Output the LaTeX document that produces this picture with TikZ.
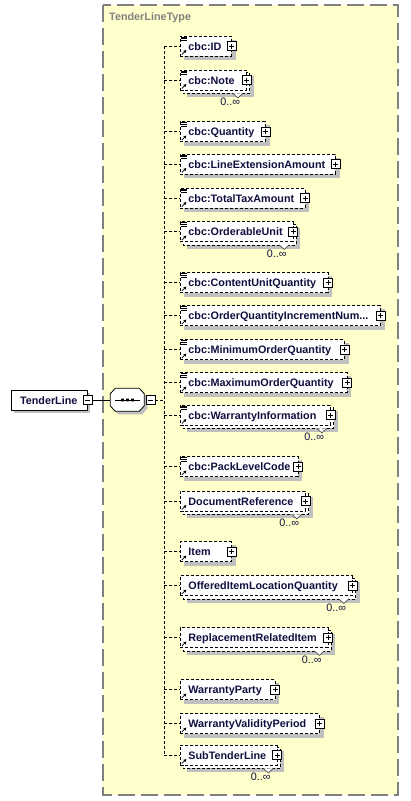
\documentclass[tikz,border=0pt]{standalone}
\usepackage{fontspec}
\setmainfont{Liberation Sans}
\usepackage{xcolor}
\usepackage{tikz}
\usetikzlibrary{positioning,backgrounds,arrows.meta}
\definecolor{typeyellow}{RGB}{255,255,204}
\definecolor{typegray}{RGB}{128,128,128}
\definecolor{shadegray}{RGB}{192,192,192}
\definecolor{navy}{RGB}{16,16,64}
\hyphenpenalty=10000
\tikzset{
  link/.style={dash pattern=on 3pt off 2pt, line width=0.8pt},
  dropshade/.style={append after command={\pgfextra{\begin{pgfonlayer}{background}
    \fill[shadegray] ([shift={(#1,-#1)}]\tikzlastnode.north west) rectangle ([shift={(#1,-#1)}]\tikzlastnode.south east);
    \end{pgfonlayer}}}},
  backcopy/.style={append after command={\pgfextra{\begin{pgfonlayer}{background}
    \draw[fill=white, line width=0.8pt, dash pattern=on 3pt off 2pt]
      ([shift={(3pt,-3pt)}]\tikzlastnode.north west) rectangle ([shift={(3pt,-3pt)}]\tikzlastnode.south east);
    \end{pgfonlayer}}}},
  elem/.style={draw, fill=white, dash pattern=on 3pt off 2pt, line width=0.8pt, anchor=west,
    minimum height=20pt, inner xsep=8pt, inner ysep=0pt, align=left, text=navy,
    text height=8pt, text depth=0pt, font=\fontsize{10.8pt}{13pt}\selectfont\bfseries},
  one/.style={elem, dropshade=4pt},
  many/.style={elem, dropshade=6.8pt, backcopy},
  icon/.style={solid, black, line width=0.8pt, -{Triangle[length=2.8pt,width=2.8pt]}},
  bars/.style={solid, black, line width=0.9pt},
  ref/.style={path picture={
    \draw[icon] ([shift={(1.5pt,1.5pt)}]path picture bounding box.south west) -- ++(4.5pt,4.5pt);}},
  cbc/.style={path picture={
    \draw[icon] ([shift={(1.5pt,1.5pt)}]path picture bounding box.south west) -- ++(4.5pt,4.5pt);
    \draw[bars] ([shift={(1pt,-1pt)}]path picture bounding box.north west) -- ++(5.5pt,0)
                ([shift={(1pt,-2.8pt)}]path picture bounding box.north west) -- ++(5.5pt,0)
                ([shift={(1pt,-4.6pt)}]path picture bounding box.north west) -- ++(5.5pt,0);}},
  pm/.style={draw, solid, fill=white, line width=0.7pt, minimum size=9pt, inner sep=0pt},
  plus/.style={pm, path picture={
    \draw[line width=0.7pt] ([xshift=2pt]path picture bounding box.west) -- ([xshift=-2pt]path picture bounding box.east)
      ([yshift=2pt]path picture bounding box.south) -- ([yshift=-2pt]path picture bounding box.north);}},
  minus/.style={pm, path picture={
    \draw[line width=0.7pt] ([xshift=2pt]path picture bounding box.west) -- ([xshift=-2pt]path picture bounding box.east);}},
  notch/.style={draw=black!70, fill=white, solid, line width=0.7pt},
  mult/.style={text=navy, inner sep=0pt, font=\fontsize{10.8pt}{12pt}\selectfont},
  typebox/.style={draw=typegray, fill=typeyellow, line width=1.2pt, dash pattern=on 17pt off 6pt},
  typelabel/.style={text=typegray, anchor=base west, inner sep=0pt, font=\fontsize{10.8pt}{13pt}\selectfont\bfseries},
  rootbox/.style={draw, fill=white, line width=0.8pt, minimum height=20pt, inner xsep=9pt, inner ysep=0pt,
    text width=58pt, align=left, text=navy, text height=8pt, text depth=0pt,
    font=\fontsize{10.8pt}{13pt}\selectfont\bfseries, dropshade=3pt},
  seqbox/.style={minimum width=34pt, minimum height=23pt, inner sep=0pt},
  octagon/.style={insert path={-- ++(24pt,0) -- ++(5pt,-5.5pt) -- ++(0,-12pt) -- ++(-5pt,-5.5pt)
    -- ++(-24pt,0) -- ++(-5pt,5.5pt) -- ++(0,12pt) -- cycle}}
}

\begin{document}
\begin{tikzpicture}[x=1pt, y=1pt]
    \useasboundingbox (0,0) rectangle (410,-801);
    \begin{scope}[on background layer]
        \draw[typebox] (103,-5) rectangle (398,-795);
    \end{scope}
    \node(type)[typelabel] at (109,-20.5) {TenderLineType};

    \node(root)[rootbox] at (49,-400) {TenderLine};
    \node(rootx)[minus] at (root.east) {};
    \node(seq)[seqbox, right=18pt of rootx] {};
    \fill[shadegray] ([shift={(8pt,-3pt)}]seq.north west) [octagon];
    \draw[fill=white, line width=0.8pt] ([xshift=5pt]seq.north west) [octagon];
    \draw[line width=0.8pt] ([xshift=-12.5pt]seq.center) -- ([xshift=12.5pt]seq.center);
    \fill ([shift={(-6.3pt,-1.3pt)}]seq.center) rectangle ++(2.6pt,2.6pt)
          ([shift={(-1.3pt,-1.3pt)}]seq.center) rectangle ++(2.6pt,2.6pt)
          ([shift={(3.7pt,-1.3pt)}]seq.center) rectangle ++(2.6pt,2.6pt);
    \node(seqx)[minus, right=1pt of seq] {};
    \coordinate(trunk) at (164,-400);

    \node(id)[one, cbc, text width=35pt] at (180,-46) {cbc:ID};
    \node(idx)[plus] at (id.east) {};
    \node(note)[many, cbc, text width=50pt] at (180,-80) {cbc:Note};
    \node(notex)[plus] at (note.east) {};
    \draw[notch] ([shift={(-14pt,-3pt)}]note.south east) -- ++(5pt,-4.5pt) -- ++(5pt,4.5pt);
    \node(notem)[mult] at ([shift={(-16.5pt,-22pt)}]note.east) {0..∞};
    \node(qty)[one, cbc, text width=69pt] at (180,-131.5) {cbc:Quantity};
    \node(qtyx)[plus] at (qty.east) {};
    \node(lineamt)[one, cbc, text width=139pt] at (180,-164) {cbc:LineExtensionAmount};
    \node(lineamtx)[plus] at (lineamt.east) {};
    \node(taxamt)[one, cbc, text width=108.5pt] at (180,-198) {cbc:TotalTaxAmount};
    \node(taxamtx)[plus] at (taxamt.east) {};
    \node(unit)[many, cbc, text width=96.5pt] at (180,-231.5) {cbc:OrderableUnit};
    \node(unitx)[plus] at (unit.east) {};
    \draw[notch] ([shift={(-14pt,-3pt)}]unit.south east) -- ++(5pt,-4.5pt) -- ++(5pt,4.5pt);
    \node(unitm)[mult] at ([shift={(-16.5pt,-22pt)}]unit.east) {0..∞};
    \node(content)[one, cbc, text width=131.5pt] at (180,-282.5) {cbc:ContentUnitQuantity};
    \node(contentx)[plus] at (content.east) {};
    \node(increment)[one, cbc, text width=184pt] at (180,-315.5) {cbc:OrderQuantityIncrementNum...};
    \node(incrementx)[plus] at (increment.east) {};
    \node(minqty)[one, cbc, text width=148pt] at (180,-349.5) {cbc:MinimumOrderQuantity};
    \node(minqtyx)[plus] at (minqty.east) {};
    \node(maxqty)[one, cbc, text width=150.5pt] at (180,-382.5) {cbc:MaximumOrderQuantity};
    \node(maxqtyx)[plus] at (maxqty.east) {};
    \node(warrinfo)[many, cbc, text width=134pt] at (180,-415) {cbc:WarrantyInformation};
    \node(warrinfox)[plus] at (warrinfo.east) {};
    \draw[notch] ([shift={(-14pt,-3pt)}]warrinfo.south east) -- ++(5pt,-4.5pt) -- ++(5pt,4.5pt);
    \node(warrinfom)[mult] at ([shift={(-16.5pt,-22pt)}]warrinfo.east) {0..∞};
    \node(pack)[one, cbc, text width=101.5pt] at (180,-466.5) {cbc:PackLevelCode};
    \node(packx)[plus] at (pack.east) {};
    \node(docref)[many, ref, text width=109pt] at (180,-501) {DocumentReference};
    \node(docrefx)[plus] at (docref.east) {};
    \draw[notch] ([shift={(-14pt,-3pt)}]docref.south east) -- ++(5pt,-4.5pt) -- ++(5pt,4.5pt);
    \node(docrefm)[mult] at ([shift={(-16.5pt,-22pt)}]docref.east) {0..∞};
    \node(item)[one, ref, text width=35pt] at (180,-551.5) {Item};
    \node(itemx)[plus] at (item.east) {};
    \node(offered)[many, ref, text width=156pt] at (180,-585.5) {OfferedItemLocationQuantity};
    \node(offeredx)[plus] at (offered.east) {};
    \draw[notch] ([shift={(-14pt,-3pt)}]offered.south east) -- ++(5pt,-4.5pt) -- ++(5pt,4.5pt);
    \node(offeredm)[mult] at ([shift={(-16.5pt,-22pt)}]offered.east) {0..∞};
    \node(replacement)[many, ref, text width=131.5pt] at (180,-637.5) {ReplacementRelatedItem};
    \node(replacementx)[plus] at (replacement.east) {};
    \draw[notch] ([shift={(-14pt,-3pt)}]replacement.south east) -- ++(5pt,-4.5pt) -- ++(5pt,4.5pt);
    \node(replacementm)[mult] at ([shift={(-16.5pt,-22pt)}]replacement.east) {0..∞};
    \node(warrparty)[one, ref, text width=78.5pt] at (180,-689.5) {WarrantyParty};
    \node(warrpartyx)[plus] at (warrparty.east) {};
    \node(validity)[one, ref, text width=123pt] at (180,-723.5) {WarrantyValidityPeriod};
    \node(validityx)[plus] at (validity.east) {};
    \node(subline)[many, ref, text width=80.5pt] at (180,-755) {SubTenderLine};
    \node(sublinex)[plus] at (subline.east) {};
    \draw[notch] ([shift={(-14pt,-3pt)}]subline.south east) -- ++(5pt,-4.5pt) -- ++(5pt,4.5pt);
    \node(sublinem)[mult] at ([shift={(-16.5pt,-22pt)}]subline.east) {0..∞};

    \draw[line width=0.8pt] (rootx) -- (seq);
    \draw[link] (seqx) -- (trunk |- seqx);
    \draw[link] (trunk |- id) -- (trunk |- subline);
    \draw[link] (trunk |- id) -- (id);
    \draw[link] (trunk |- note) -- (note);
    \draw[link] (trunk |- qty) -- (qty);
    \draw[link] (trunk |- lineamt) -- (lineamt);
    \draw[link] (trunk |- taxamt) -- (taxamt);
    \draw[link] (trunk |- unit) -- (unit);
    \draw[link] (trunk |- content) -- (content);
    \draw[link] (trunk |- increment) -- (increment);
    \draw[link] (trunk |- minqty) -- (minqty);
    \draw[link] (trunk |- maxqty) -- (maxqty);
    \draw[link] (trunk |- warrinfo) -- (warrinfo);
    \draw[link] (trunk |- pack) -- (pack);
    \draw[link] (trunk |- docref) -- (docref);
    \draw[link] (trunk |- item) -- (item);
    \draw[link] (trunk |- offered) -- (offered);
    \draw[link] (trunk |- replacement) -- (replacement);
    \draw[link] (trunk |- warrparty) -- (warrparty);
    \draw[link] (trunk |- validity) -- (validity);
    \draw[link] (trunk |- subline) -- (subline);
\end{tikzpicture}
\end{document}
